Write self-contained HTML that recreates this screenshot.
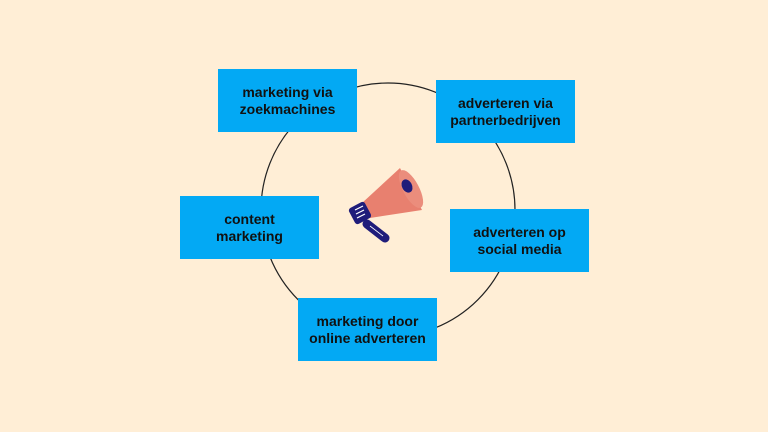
<!DOCTYPE html>
<html><head><style>
body{margin:0;width:768px;height:432px;background:#ffeed6;position:relative;overflow:hidden;font-family:"Liberation Sans",sans-serif}
.b{position:absolute;width:139px;height:63px;background:#03a9f4;display:flex;align-items:center;justify-content:center;text-align:center;font-weight:bold;font-size:14px;line-height:17px;color:#111;box-sizing:border-box}
svg{position:absolute;left:0;top:0}
</style></head><body>
<svg width="768" height="432">
<circle cx="388" cy="210" r="127" fill="none" stroke="#222" stroke-width="1.2"/>
<polygon points="362,203 400,168 422,210 370,218" fill="#e8806f"/>
<ellipse cx="411" cy="189" rx="8" ry="21" transform="rotate(-28 411 189)" fill="#eb8d7c"/>
<ellipse cx="407" cy="186" rx="5" ry="7" transform="rotate(-28 407 186)" fill="#1f1c7a"/>
<rect x="351" y="204" width="18" height="18" rx="3" transform="rotate(-28 360 213)" fill="#1f1c7a"/>
<g stroke="#fff" stroke-width="1.2"><line x1="355" y1="210" x2="363" y2="206"/><line x1="356" y1="214" x2="364" y2="210"/><line x1="357" y1="218" x2="365" y2="214"/></g>
<line x1="367" y1="224" x2="385" y2="238" stroke="#1f1c7a" stroke-width="9" stroke-linecap="round"/>
<line x1="370" y1="226" x2="383" y2="236" stroke="#fff" stroke-width="0.8"/>
</svg>
<div class="b" style="left:218px;top:69px">marketing via<br>zoekmachines</div>
<div class="b" style="left:436px;top:80px">adverteren via<br>partnerbedrijven</div>
<div class="b" style="left:180px;top:196px">content<br>marketing</div>
<div class="b" style="left:450px;top:209px">adverteren op<br>social media</div>
<div class="b" style="left:298px;top:298px">marketing door<br>online adverteren</div>
</body></html>
